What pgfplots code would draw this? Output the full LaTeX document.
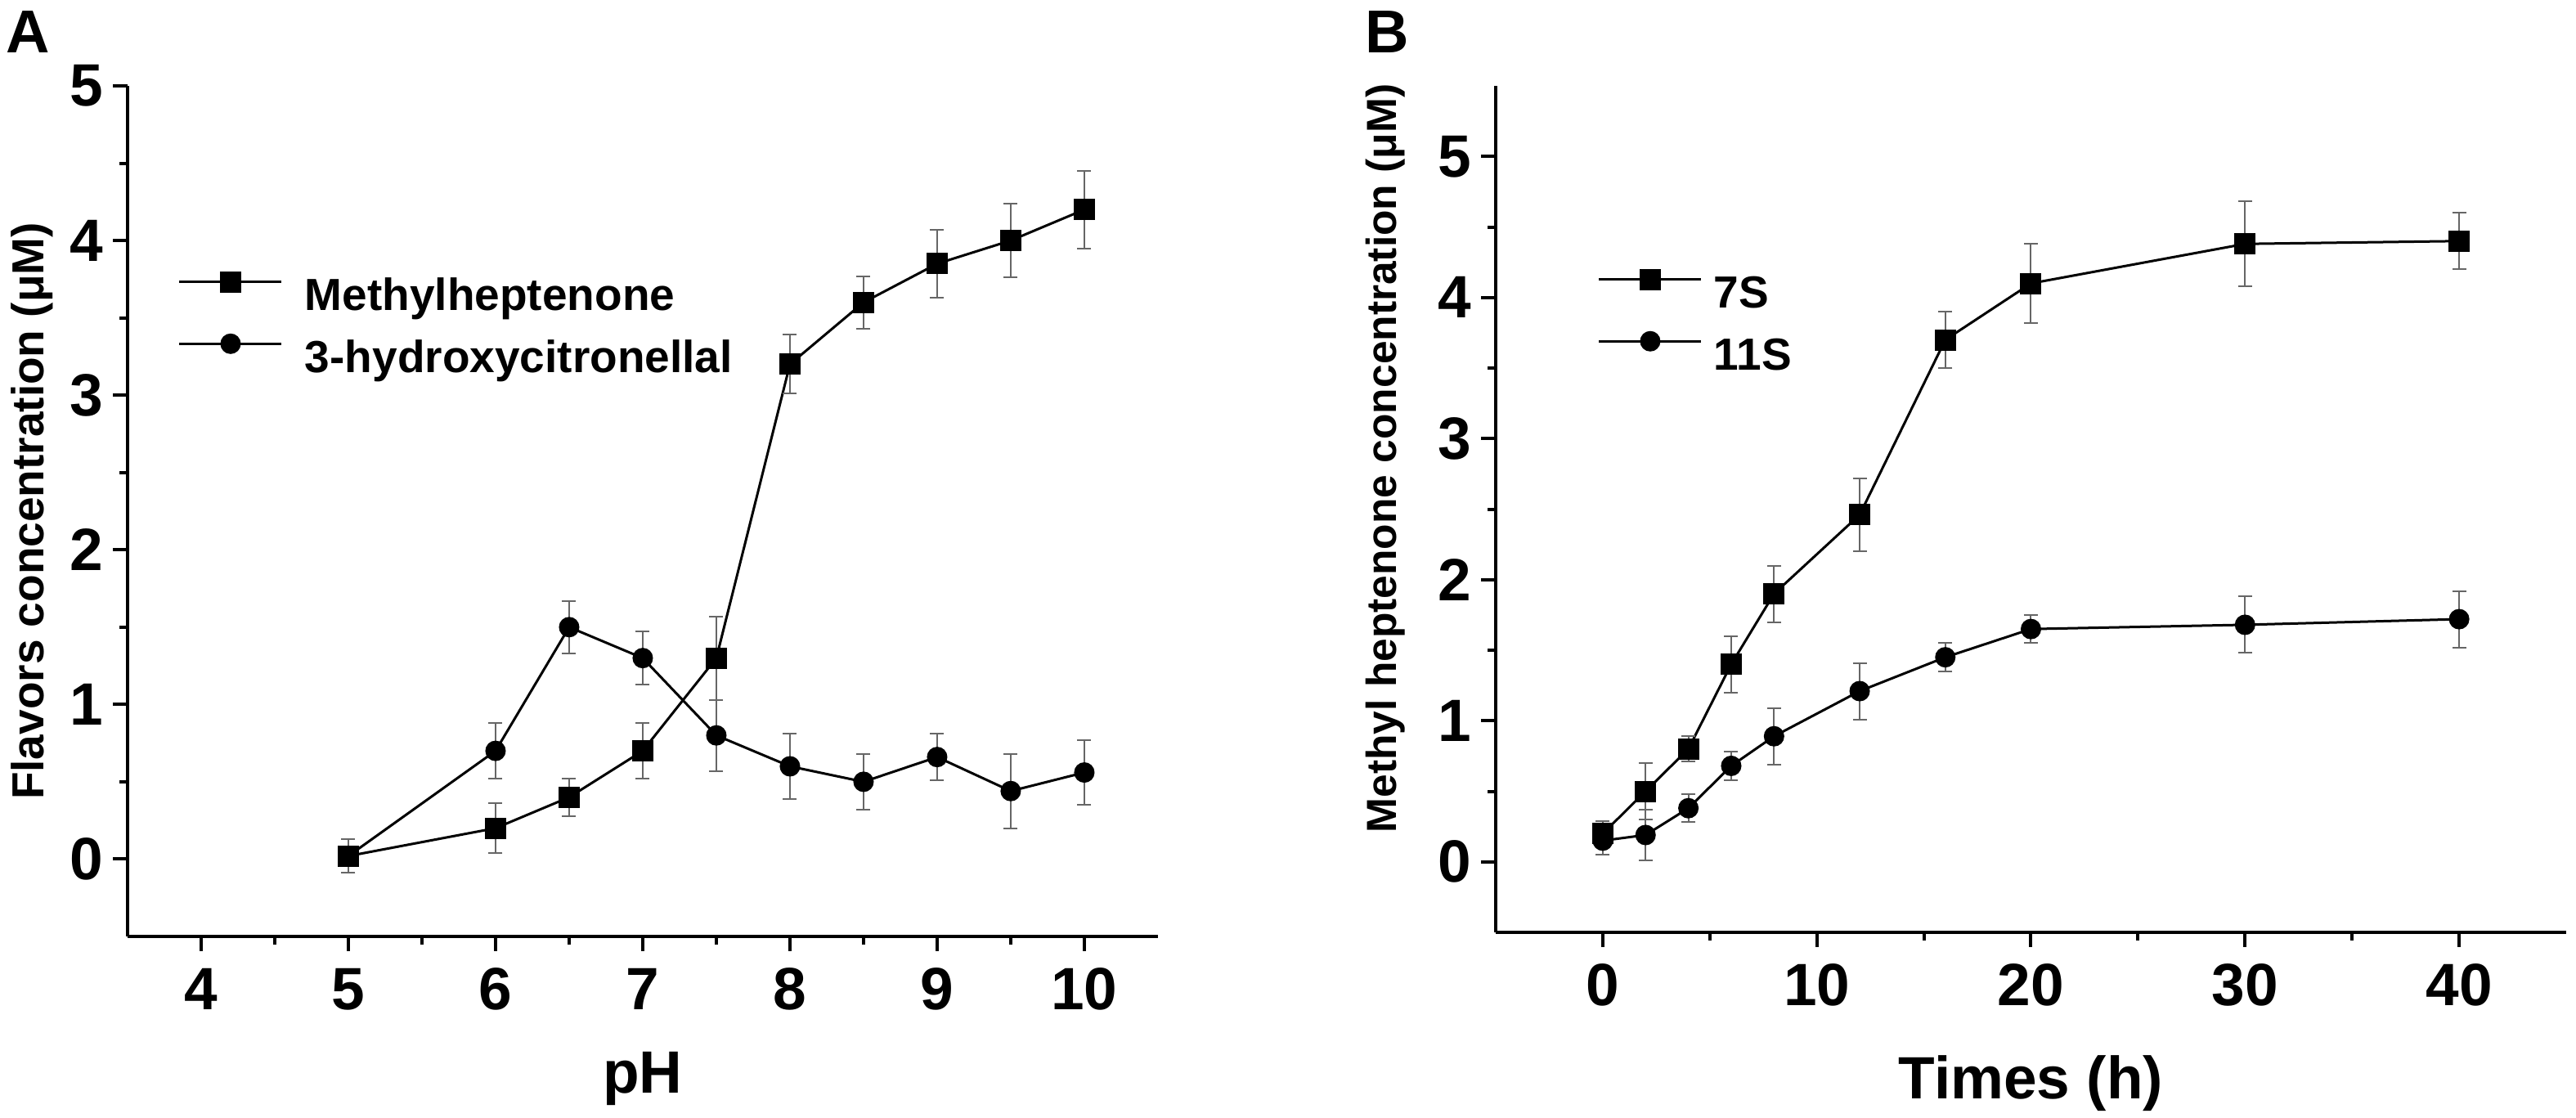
\documentclass[border=0pt]{standalone}
\usepackage{fontspec}
\setmainfont{Liberation Sans}
\usepackage{pgfplots}
\usepackage{pgfplotstable}
\pgfplotsset{compat=1.18}

\pgfplotstableread{
x y e
5 0.02 0.11
6 0.20 0.16
6.5 0.40 0.12
7 0.70 0.18
7.5 1.30 0.27
8 3.20 0.19
8.5 3.60 0.17
9 3.85 0.22
9.5 4.00 0.24
10 4.20 0.25
}\methyl
\pgfplotstableread{
x y e
5 0.02 0.11
6 0.70 0.18
6.5 1.50 0.17
7 1.30 0.17
7.5 0.80 0.23
8 0.60 0.21
8.5 0.50 0.18
9 0.66 0.15
9.5 0.44 0.24
10 0.56 0.21
}\hydroxy
\pgfplotstableread{
x y e
0 0.20 0.09
2 0.50 0.20
4 0.80 0.09
6 1.40 0.20
8 1.90 0.20
12 2.46 0.26
16 3.70 0.20
20 4.10 0.28
30 4.38 0.30
40 4.40 0.20
}\sevenS
\pgfplotstableread{
x y e
0 0.15 0.10
2 0.19 0.18
4 0.38 0.10
6 0.68 0.10
8 0.89 0.20
12 1.21 0.20
16 1.45 0.10
20 1.65 0.10
30 1.68 0.20
40 1.72 0.20
}\elevenS

\pgfplotsset{
  panel/.style={
    scale only axis,
    axis x line*=bottom, axis y line*=left,
    tick align=outside,
    major tick length=3.6pt, minor tick length=2pt,
    every tick/.style={black, line width=0.8pt},
    axis line style={line width=0.85pt},
    /pgf/number format/assume math mode=true,
    ticklabel style={font=\fontsize{14.6}{16}\selectfont\bfseries},
    xticklabel style={inner sep=0pt, anchor=north, yshift=-4pt},
    yticklabel style={inner sep=0pt, anchor=east, xshift=-2.1pt},
    minor x tick num=1, minor y tick num=1,
    clip=false,
    xlabel style={at={(axis description cs:0.5,0)}, anchor=base, font=\fontsize{14.6}{16}\selectfont\bfseries},
    ylabel style={anchor=base},
    legend cell align=left,
    legend image code/.code={\draw[mark repeat=2,mark phase=2,#1,yshift=4pt] plot coordinates {(0pt,0pt) (12.5pt,0pt) (25pt,0pt)};},
    legend style={draw=none, fill=none, inner sep=0pt, row sep=3.7pt, anchor=north west,
      font=\fontsize{11}{13}\selectfont\bfseries,
      nodes={inner sep=0pt, text height=8.2pt, text depth=2.3pt}},
  },
  ser/.style={black, line width=0.6pt, mark size=2.3pt, mark options={solid, fill=black},
    error bars/y dir=both, error bars/y explicit,
    error bars/error bar style={black!60, line width=0.4pt},
    error bars/error mark options={rotate=90, black!60, line width=0.4pt, mark size=1.7pt}},
}

\begin{document}
\begin{tikzpicture}
\useasboundingbox (0,0) rectangle (630pt,273.4pt);

\begin{axis}[panel,
  at={(31.2pt,44.4pt)}, anchor=south west,
  width=252pt, height=208pt,
  xmin=3.5, xmax=10.5, ymin=-0.5, ymax=5,
  xtick={4,5,...,10}, ytick={0,1,...,5},
  xlabel={pH},
  xlabel style={yshift=-38.4pt},
  ylabel={Flavors concentration (μM)},
  ylabel style={at={(axis description cs:-0.081,0.5)}, font=\fontsize{11}{13}\selectfont\bfseries},
  legend style={at={(axis description cs:0.0484,0.7817)}, column sep=5.4pt},
]
\addplot[ser, mark=square*] table[x=x, y=y, y error=e] {\methyl};
\addlegendentry{Methylheptenone}
\addplot[ser, mark=*, mark size=2.2pt] table[x=x, y=y, y error=e] {\hydroxy};
\addlegendentry{3-hydroxycitronellal}
\end{axis}

\begin{axis}[panel,
  at={(365.8pt,45.4pt)}, anchor=south west,
  width=261.8pt, height=207pt,
  xmin=-5, xmax=45, ymin=-0.5, ymax=5.5,
  xtick={0,10,...,40}, ytick={0,1,...,5},
  xlabel={Times (h)},
  xlabel style={yshift=-40.8pt},
  ylabel={Methyl heptenone concentration (μM)},
  ylabel style={at={(axis description cs:-0.0932,0.560)}, font=\fontsize{10.3}{12}\selectfont\bfseries},
  legend style={at={(axis description cs:0.0947,0.7836)}, column sep=2.8pt},
]
\addplot[ser, mark=square*] table[x=x, y=y, y error=e] {\sevenS};
\addlegendentry{7S}
\addplot[ser, mark=*, mark size=2.2pt] table[x=x, y=y, y error=e] {\elevenS};
\addlegendentry{11S}
\end{axis}

\node[anchor=base west, inner sep=0pt, font=\fontsize{14.8}{16}\selectfont\bfseries] at (1.4pt,260.4pt) {A};
\node[anchor=base west, inner sep=0pt, font=\fontsize{14.8}{16}\selectfont\bfseries] at (333.6pt,260.4pt) {B};
\end{tikzpicture}
\end{document}
